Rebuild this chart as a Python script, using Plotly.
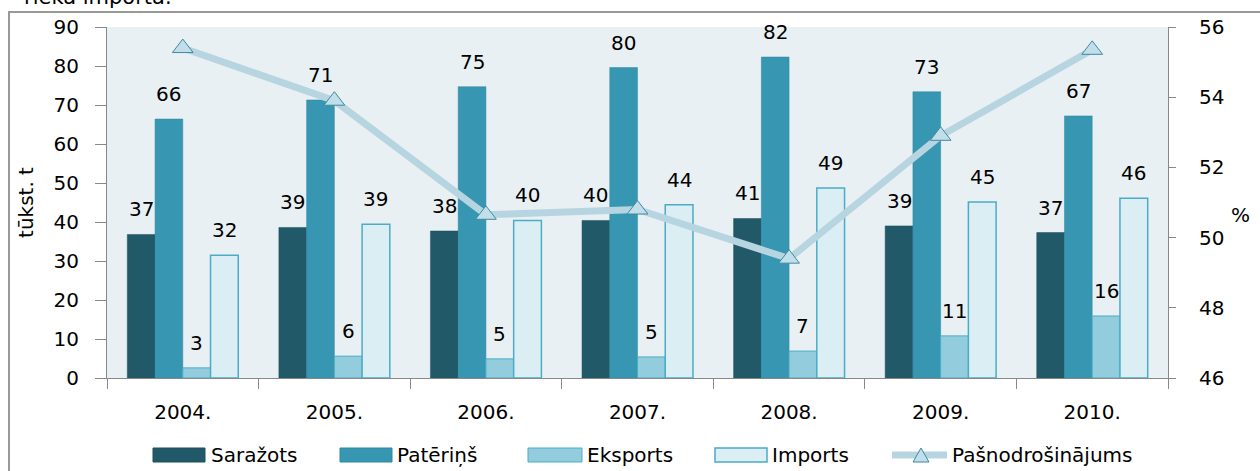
import plotly.graph_objects as go

years = ["2004.", "2005.", "2006.", "2007.", "2008.", "2009.", "2010."]
sarazots = [36.8, 38.6, 37.7, 40.4, 40.9, 39.0, 37.3]
pateriņš = [66.4, 71.3, 74.7, 79.6, 82.3, 73.4, 67.2]
eksports = [2.6, 5.6, 4.9, 5.4, 6.9, 10.8, 15.9]
imports = [31.5, 39.4, 40.4, 44.4, 48.7, 45.1, 46.1]
pasnodr = [55.4, 53.9, 50.65, 50.8, 49.4, 52.9, 55.35]
series_names = ["Saražots", "Patēriņš", "Eksports", "Imports", "Pašnodrošinājums"]

FONT = "DejaVu Sans"
FS = 20

# plot area in pixels
L, R, T, B = 107, 1168, 27, 378
W, H = R - L, B - T


def px(x):
    return (x - L) / W


def py(y):
    return (B - y) / H


bar_styles = [
    dict(color="#215968", line=dict(color="#1d5060", width=0.5)),
    dict(color="#3796B1", line=dict(color="#2f88a2", width=0.5)),
    dict(color="#93CDDD", line=dict(color="#4BACC6", width=1)),
    dict(color="#DBEEF4", line=dict(color="#4BACC6", width=1.5)),
]
series = [sarazots, pateriņš, eksports, imports]

fig = go.Figure()
for name, vals, st in zip(series_names[:4], series, bar_styles):
    fig.add_trace(go.Bar(name=name, x=years, y=vals, marker=st, showlegend=False))

LINE_COL = "#B7D5E0"
TRI_FILL = "#C2DEE8"
TRI_EDGE = "#3E8AA2"
fig.add_trace(go.Scatter(name=series_names[4], x=years, y=pasnodr, yaxis="y2",
                         mode="lines+markers", showlegend=False,
                         line=dict(color=LINE_COL, width=7),
                         marker=dict(symbol="triangle-up", size=18, color=TRI_FILL,
                                     line=dict(color=TRI_EDGE, width=1))))

# bar value labels
bargap = 0.268
bar_w = W / len(years) * (1 - bargap) / 4
annotations = []
for k, vals in enumerate(series):
    off = (k - 1.5) * bar_w
    for i, v in enumerate(vals):
        annotations.append(dict(x=i, y=v, xref="x", yref="y", text=str(int(v + 0.5)),
                                showarrow=False, xshift=off, yshift=25,
                                yanchor="middle", xanchor="center",
                                font=dict(family=FONT, size=FS, color="#000")))

annotations.append(dict(x=px(1252), y=py(215), xref="paper", yref="paper",
                        text="%", showarrow=False, font=dict(family=FONT, size=FS, color="#000")))
annotations.append(dict(x=px(22), y=py(-3), xref="paper", yref="paper",
                        text="rieka importa.", showarrow=False, xanchor="left", yanchor="middle",
                        font=dict(family=FONT, size=21, color="#000")))

# custom legend
shapes = [dict(type="rect", xref="paper", yref="paper",
               x0=px(9), x1=px(1275), y0=py(490), y1=py(12),
               line=dict(color="#999999", width=2), fillcolor="rgba(0,0,0,0)", layer="below")]
leg_y = 455
leg_rects = [(153, 205), (340, 392), (528, 582), (715, 767)]
leg_text_x = [209, 395, 585, 770, 950]
for (x0, x1), st in zip(leg_rects, bar_styles):
    shapes.append(dict(type="rect", xref="paper", yref="paper",
                       x0=px(x0), x1=px(x1), y0=py(leg_y + 7), y1=py(leg_y - 7),
                       fillcolor=st["color"], line=dict(color=st["line"]["color"],
                                                        width=max(st["line"]["width"], 1))))
shapes.append(dict(type="line", xref="paper", yref="paper",
                   x0=px(892), x1=px(947), y0=py(leg_y), y1=py(leg_y),
                   line=dict(color=LINE_COL, width=7)))
tx, th, tw = 921, 14, 16
shapes.append(dict(type="path", xref="paper", yref="paper",
                   path=f"M {px(tx - tw / 2)},{py(leg_y + th / 2)} L {px(tx + tw / 2)},{py(leg_y + th / 2)} "
                        f"L {px(tx)},{py(leg_y - th / 2)} Z",
                   fillcolor=TRI_FILL, line=dict(color=TRI_EDGE, width=1)))
for name, x in zip(series_names, leg_text_x):
    annotations.append(dict(x=px(x), y=py(leg_y), xref="paper", yref="paper", text=name,
                            showarrow=False, xanchor="left", yanchor="middle",
                            font=dict(family=FONT, size=FS, color="#000")))

fig.update_layout(
    width=1260, height=471,
    margin=dict(l=L, r=1260 - R, t=T, b=471 - B, autoexpand=False),
    paper_bgcolor="white",
    plot_bgcolor="#E8F0F3",
    barmode="group", bargap=bargap, bargroupgap=0,
    showlegend=False,
    font=dict(family=FONT, size=FS, color="#000"),
    xaxis=dict(type="category", categoryorder="array", categoryarray=years,
               range=[-0.5, len(years) - 0.5], autorange=False,
               tickson="boundaries", ticks="outside", ticklen=10, tickangle=0,
               tickcolor="#888", showline=True, linecolor="#888", linewidth=1,
               showgrid=False, ticklabelstandoff=16, tickfont=dict(size=FS, color="#000")),
    yaxis=dict(range=[0, 90], autorange=False, dtick=10, ticks="outside", ticklen=11,
               tickcolor="#888", showline=True, linecolor="#888", showgrid=False, zeroline=False,
               tickfont=dict(size=FS, color="#000"),
               title=dict(text="tūkst. t", standoff=14, font=dict(size=FS, color="#000")),
               ticklabelstandoff=12),
    yaxis2=dict(range=[46, 56], autorange=False, dtick=2, overlaying="y", side="right",
                ticks="outside", ticklen=7, tickcolor="#888", showline=True, linecolor="#888",
                showgrid=False, zeroline=False, ticklabelstandoff=19,
                tickfont=dict(size=FS, color="#000")),
    annotations=annotations,
    shapes=shapes,
)

fig.write_html("out.html", config={"displayModeBar": False},
               post_script="document.body.style.margin='0';")
